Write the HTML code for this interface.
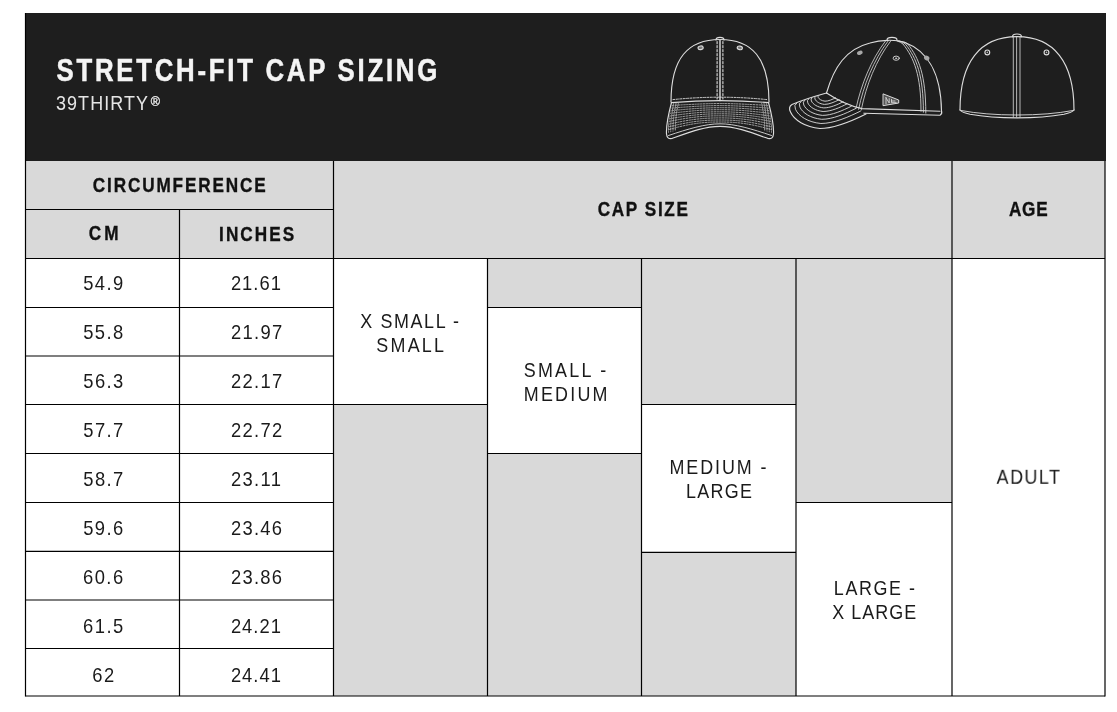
<!DOCTYPE html><html><head><meta charset="utf-8"><title>Stretch-Fit Cap Sizing</title><style>html,body{margin:0;padding:0;background:#fff;}svg{display:block;will-change:transform;}text{font-family:"Liberation Sans",sans-serif;}</style></head><body>
<svg width="1117" height="712" viewBox="0 0 1117 712">
<rect x="25" y="13" width="1081" height="148" fill="#1e1e1e"/>
<rect x="25.5" y="161" width="1079.5" height="97.5" fill="#d9d9d9"/>
<rect x="333.5" y="404.5" width="154.0" height="291.5" fill="#d9d9d9"/>
<rect x="487.5" y="258.5" width="154.0" height="49.0" fill="#d9d9d9"/>
<rect x="487.5" y="453.5" width="154.0" height="242.5" fill="#d9d9d9"/>
<rect x="641.5" y="258.5" width="154.5" height="146.0" fill="#d9d9d9"/>
<rect x="641.5" y="552.4" width="154.5" height="143.60000000000002" fill="#d9d9d9"/>
<rect x="796.0" y="258.5" width="156.0" height="244.0" fill="#d9d9d9"/>
<line x1="25.5" y1="13" x2="25.5" y2="696.6" stroke="#000" stroke-width="1.2"/>
<line x1="1105.0" y1="161" x2="1105.0" y2="696.6" stroke="#000" stroke-width="1.2"/>
<line x1="25.5" y1="696.0" x2="1105.0" y2="696.0" stroke="#000" stroke-width="1.2"/>
<line x1="25.5" y1="209.5" x2="333.5" y2="209.5" stroke="#000" stroke-width="1.2"/>
<line x1="25.5" y1="258.5" x2="1105.0" y2="258.5" stroke="#000" stroke-width="1.2"/>
<line x1="179.5" y1="209.5" x2="179.5" y2="696.0" stroke="#000" stroke-width="1.2"/>
<line x1="333.5" y1="161" x2="333.5" y2="696.0" stroke="#000" stroke-width="1.2"/>
<line x1="952.0" y1="161" x2="952.0" y2="696.0" stroke="#000" stroke-width="1.2"/>
<line x1="487.5" y1="258.5" x2="487.5" y2="696.0" stroke="#000" stroke-width="1.2"/>
<line x1="641.5" y1="258.5" x2="641.5" y2="696.0" stroke="#000" stroke-width="1.2"/>
<line x1="796.0" y1="258.5" x2="796.0" y2="696.0" stroke="#000" stroke-width="1.2"/>
<line x1="25.5" y1="307.5" x2="333.5" y2="307.5" stroke="#000" stroke-width="1.2"/>
<line x1="25.5" y1="356.0" x2="333.5" y2="356.0" stroke="#000" stroke-width="1.2"/>
<line x1="25.5" y1="404.5" x2="333.5" y2="404.5" stroke="#000" stroke-width="1.2"/>
<line x1="25.5" y1="453.5" x2="333.5" y2="453.5" stroke="#000" stroke-width="1.2"/>
<line x1="25.5" y1="502.5" x2="333.5" y2="502.5" stroke="#000" stroke-width="1.2"/>
<line x1="25.5" y1="551.3" x2="333.5" y2="551.3" stroke="#000" stroke-width="1.2"/>
<line x1="25.5" y1="600.0" x2="333.5" y2="600.0" stroke="#000" stroke-width="1.2"/>
<line x1="25.5" y1="648.5" x2="333.5" y2="648.5" stroke="#000" stroke-width="1.2"/>
<line x1="333.5" y1="404.5" x2="487.5" y2="404.5" stroke="#000" stroke-width="1.2"/>
<line x1="487.5" y1="307.5" x2="641.5" y2="307.5" stroke="#000" stroke-width="1.2"/>
<line x1="487.5" y1="453.5" x2="641.5" y2="453.5" stroke="#000" stroke-width="1.2"/>
<line x1="641.5" y1="404.5" x2="796.0" y2="404.5" stroke="#000" stroke-width="1.2"/>
<line x1="641.5" y1="552.4" x2="796.0" y2="552.4" stroke="#000" stroke-width="1.2"/>
<line x1="796.0" y1="502.5" x2="952.0" y2="502.5" stroke="#000" stroke-width="1.2"/>
<text id="t_title" transform="translate(246.86,81) scale(0.84,1)" font-size="30.7" font-weight="bold" fill="#f4f4f4" stroke="#f4f4f4" stroke-width="0.5" text-anchor="middle" textLength="453.24" lengthAdjust="spacing">STRETCH-FIT CAP SIZING</text>
<text id="t_sub" transform="translate(102.01,110) scale(0.92,1)" font-size="19.5" font-weight="normal" fill="#e6e6e6" text-anchor="middle" textLength="100.16" lengthAdjust="spacing">39THIRTY</text>
<text id="t_reg" transform="translate(155.40,105.6) scale(1.0,1)" font-size="12.5" font-weight="normal" fill="#e6e6e6" stroke="#e6e6e6" stroke-width="0.35" text-anchor="middle">®</text>
<text id="t_CIRC" transform="translate(179.25,192) scale(0.88,1)" font-size="19.5" font-weight="bold" fill="#111" stroke="#111" stroke-width="0.35" text-anchor="middle" textLength="196.47" lengthAdjust="spacing">CIRCUMFERENCE</text>
<text id="t_CM" transform="translate(103.57,240.3) scale(0.88,1)" font-size="19.5" font-weight="bold" fill="#111" stroke="#111" stroke-width="0.35" text-anchor="middle" textLength="33.94" lengthAdjust="spacing">CM</text>
<text id="t_INCHES" transform="translate(256.59,240.5) scale(0.88,1)" font-size="19.5" font-weight="bold" fill="#111" stroke="#111" stroke-width="0.35" text-anchor="middle" textLength="85.30" lengthAdjust="spacing">INCHES</text>
<text id="t_CAPSIZE" transform="translate(642.76,215.8) scale(0.88,1)" font-size="19.5" font-weight="bold" fill="#111" stroke="#111" stroke-width="0.35" text-anchor="middle" textLength="102.53" lengthAdjust="spacing">CAP SIZE</text>
<text id="t_AGE" transform="translate(1028.31,215.5) scale(0.88,1)" font-size="19.5" font-weight="bold" fill="#111" stroke="#111" stroke-width="0.35" text-anchor="middle" textLength="43.92" lengthAdjust="spacing">AGE</text>
<text id="t_cm0" transform="translate(103.20,290.2) scale(0.92,1)" font-size="20" font-weight="normal" fill="#1a1a1a" text-anchor="middle" textLength="43.40" lengthAdjust="spacing">54.9</text>
<text id="t_in0" transform="translate(255.90,290.2) scale(0.92,1)" font-size="20" font-weight="normal" fill="#1a1a1a" text-anchor="middle" textLength="54.35" lengthAdjust="spacing">21.61</text>
<text id="t_cm1" transform="translate(103.21,339.2) scale(0.92,1)" font-size="20" font-weight="normal" fill="#1a1a1a" text-anchor="middle" textLength="43.42" lengthAdjust="spacing">55.8</text>
<text id="t_in1" transform="translate(256.61,339.2) scale(0.92,1)" font-size="20" font-weight="normal" fill="#1a1a1a" text-anchor="middle" textLength="55.88" lengthAdjust="spacing">21.97</text>
<text id="t_cm2" transform="translate(103.29,388.2) scale(0.92,1)" font-size="20" font-weight="normal" fill="#1a1a1a" text-anchor="middle" textLength="43.59" lengthAdjust="spacing">56.3</text>
<text id="t_in2" transform="translate(256.61,388.2) scale(0.92,1)" font-size="20" font-weight="normal" fill="#1a1a1a" text-anchor="middle" textLength="55.88" lengthAdjust="spacing">22.17</text>
<text id="t_cm3" transform="translate(103.24,437.2) scale(0.92,1)" font-size="20" font-weight="normal" fill="#1a1a1a" text-anchor="middle" textLength="43.48" lengthAdjust="spacing">57.7</text>
<text id="t_in3" transform="translate(256.61,437.2) scale(0.92,1)" font-size="20" font-weight="normal" fill="#1a1a1a" text-anchor="middle" textLength="55.88" lengthAdjust="spacing">22.72</text>
<text id="t_cm4" transform="translate(103.24,486.2) scale(0.92,1)" font-size="20" font-weight="normal" fill="#1a1a1a" text-anchor="middle" textLength="43.48" lengthAdjust="spacing">58.7</text>
<text id="t_in4" transform="translate(255.90,486.2) scale(0.92,1)" font-size="20" font-weight="normal" fill="#1a1a1a" text-anchor="middle" textLength="54.35" lengthAdjust="spacing">23.11</text>
<text id="t_cm5" transform="translate(103.19,535.2) scale(0.92,1)" font-size="20" font-weight="normal" fill="#1a1a1a" text-anchor="middle" textLength="43.36" lengthAdjust="spacing">59.6</text>
<text id="t_in5" transform="translate(256.51,535.2) scale(0.92,1)" font-size="20" font-weight="normal" fill="#1a1a1a" text-anchor="middle" textLength="55.67" lengthAdjust="spacing">23.46</text>
<text id="t_cm6" transform="translate(103.12,584.2) scale(0.92,1)" font-size="20" font-weight="normal" fill="#1a1a1a" text-anchor="middle" textLength="43.51" lengthAdjust="spacing">60.6</text>
<text id="t_in6" transform="translate(256.51,584.2) scale(0.92,1)" font-size="20" font-weight="normal" fill="#1a1a1a" text-anchor="middle" textLength="55.67" lengthAdjust="spacing">23.86</text>
<text id="t_cm7" transform="translate(103.14,633.2) scale(0.92,1)" font-size="20" font-weight="normal" fill="#1a1a1a" text-anchor="middle" textLength="43.56" lengthAdjust="spacing">61.5</text>
<text id="t_in7" transform="translate(255.90,633.2) scale(0.92,1)" font-size="20" font-weight="normal" fill="#1a1a1a" text-anchor="middle" textLength="54.35" lengthAdjust="spacing">24.21</text>
<text id="t_cm8" transform="translate(103.29,682.2) scale(0.92,1)" font-size="20" font-weight="normal" fill="#1a1a1a" text-anchor="middle" textLength="24.05" lengthAdjust="spacing">62</text>
<text id="t_in8" transform="translate(255.90,682.2) scale(0.92,1)" font-size="20" font-weight="normal" fill="#1a1a1a" text-anchor="middle" textLength="54.35" lengthAdjust="spacing">24.41</text>
<text id="t_XSMALL-" transform="translate(409.67,327.7) scale(0.92,1)" font-size="19.5" font-weight="normal" fill="#1a1a1a" text-anchor="middle" textLength="107.41" lengthAdjust="spacing">X SMALL -</text>
<text id="t_SMALL" transform="translate(410.20,351.6) scale(0.92,1)" font-size="19.5" font-weight="normal" fill="#1a1a1a" text-anchor="middle" textLength="73.62" lengthAdjust="spacing">SMALL</text>
<text id="t_SMALL-" transform="translate(564.96,377.1) scale(0.92,1)" font-size="19.5" font-weight="normal" fill="#1a1a1a" text-anchor="middle" textLength="89.65" lengthAdjust="spacing">SMALL -</text>
<text id="t_MEDIUM" transform="translate(565.64,400.7) scale(0.92,1)" font-size="19.5" font-weight="normal" fill="#1a1a1a" text-anchor="middle" textLength="91.08" lengthAdjust="spacing">MEDIUM</text>
<text id="t_MEDIUM-" transform="translate(717.98,473.7) scale(0.92,1)" font-size="19.5" font-weight="normal" fill="#1a1a1a" text-anchor="middle" textLength="105.64" lengthAdjust="spacing">MEDIUM -</text>
<text id="t_LARGE" transform="translate(718.89,498.1) scale(0.92,1)" font-size="19.5" font-weight="normal" fill="#1a1a1a" text-anchor="middle" textLength="71.76" lengthAdjust="spacing">LARGE</text>
<text id="t_LARGE-" transform="translate(874.41,595) scale(0.92,1)" font-size="19.5" font-weight="normal" fill="#1a1a1a" text-anchor="middle" textLength="88.16" lengthAdjust="spacing">LARGE -</text>
<text id="t_XLARGE" transform="translate(874.25,619) scale(0.92,1)" font-size="19.5" font-weight="normal" fill="#1a1a1a" text-anchor="middle" textLength="91.15" lengthAdjust="spacing">X LARGE</text>
<text id="t_ADULT" transform="translate(1028.31,483.8) scale(0.92,1)" font-size="19.5" font-weight="normal" fill="#1a1a1a" text-anchor="middle" textLength="69.04" lengthAdjust="spacing">ADULT</text>
<g fill="none" stroke="#dcdcdc" stroke-width="1.15" stroke-linecap="round" stroke-linejoin="round">
<path d="M716,40 Q716,37.3 720,37.3 Q724,37.3 724,40"/>
<path d="M671,102 C671,58 688,39.5 720,39.5 C752,39.5 769,58 769,102"/>
<path d="M720,40 V100.5" stroke-width="1.7" stroke="#bdbdbd"/>
<path d="M717.1,41.5 V99 M722.9,41.5 V99" stroke-dasharray="2.2 1.8" stroke-width="1.1"/>
<ellipse cx="700.6" cy="47.8" rx="2.6" ry="1.8" fill="#777" transform="rotate(-10 700.6 47.8)"/>
<ellipse cx="739.8" cy="47.9" rx="2.6" ry="1.8" fill="#777" transform="rotate(10 739.8 47.9)"/>
<path d="M673,99.6 Q720,94.8 767,99.6" stroke-dasharray="2 1.4" stroke-width="0.9"/>
<path d="M671.5,102.6 Q720,98.6 768.5,102.6"/>
<path d="M671.5,102.5 C669,112 666,126 666.5,134 Q667,139.5 672,138.5 C690,132 705,126.3 720,126.3 C735,126.3 750,132 768,138.5 Q773,139.5 773.5,134 C774,126 771,112 768.5,102.5"/>
<path d="M668.5,135.5 C688,129 705,123.8 720,123.8 C735,123.8 752,129 771.5,135.5" stroke-width="0.9"/>
<clipPath id="brimclip"><path d="M672.5,103 Q720,99.6 767.5,103 C770,112 772.5,124 772,133 C750,127 735,123 720,123 C705,123 690,127 668,133 C667.5,124 670,112 672.5,103 Z"/></clipPath>
<g clip-path="url(#brimclip)" stroke="#b0b0b0" stroke-width="0.9" stroke-dasharray="1.5 1.3">
<path d="M664,131.0 C690,123.0 705,122.0 720,122.0 C735,122.0 750,123.0 776,131.0"/>
<path d="M664,128.2 C690,121.0 705,120.0 720,120.0 C735,120.0 750,121.0 776,128.2"/>
<path d="M664,125.4 C690,118.9 705,117.9 720,117.9 C735,117.9 750,118.9 776,125.4"/>
<path d="M664,122.6 C690,116.8 705,115.8 720,115.8 C735,115.8 750,116.8 776,122.6"/>
<path d="M664,119.8 C690,114.8 705,113.8 720,113.8 C735,113.8 750,114.8 776,119.8"/>
<path d="M664,117.0 C690,112.8 705,111.8 720,111.8 C735,111.8 750,112.8 776,117.0"/>
<path d="M664,114.2 C690,110.7 705,109.7 720,109.7 C735,109.7 750,110.7 776,114.2"/>
<path d="M664,111.4 C690,108.7 705,107.7 720,107.7 C735,107.7 750,108.7 776,111.4"/>
<path d="M664,108.6 C690,106.6 705,105.6 720,105.6 C735,105.6 750,106.6 776,108.6"/>
<path d="M664,105.8 C690,104.5 705,103.5 720,103.5 C735,103.5 750,104.5 776,105.8"/>
<path d="M671.5,103 C669.5,112 668.0,124 668.5,133"/>
<path d="M768.5,103 C770.5,112 772.0,124 771.5,133"/>
<path d="M673.8,103 C671.8,112 670.3,124 670.8,133"/>
<path d="M766.2,103 C768.2,112 769.7,124 769.2,133"/>
<path d="M676.1,103 C674.1,112 672.6,124 673.1,133"/>
<path d="M763.9,103 C765.9,112 767.4,124 766.9,133"/>
<path d="M678.4,103 C676.4,112 674.9,124 675.4,133"/>
<path d="M761.6,103 C763.6,112 765.1,124 764.6,133"/>
</g>
<path d="M887,40 Q887,37.3 892,37.3 Q897,37.3 897,40"/>
<path d="M826.5,93 C834,67 846,49 870,43 C880,40 895,39 905,42.5 C925,50 941,70 941.5,111"/>
<path d="M826.5,93 Q845,105 862,108.6 L940,111.2"/>
<path d="M864,113.2 L940,115.2 Q942.5,114 941.5,111"/>
<path d="M826.5,93 C812,97 800,101 792,104.5 Q788,107 790.5,112 C794,120 805,127 820,128.5 C835,128.5 852,121 866,114"/>
<path d="M796.8,102.9 Q793.4,105.0 795.5,109.3 C798.5,116.2 808.0,122.2 820.9,123.5 C833.8,123.5 848.4,117.1 860.5,111.1" stroke-width="0.9"/>
<path d="M801.0,101.5 Q798.0,103.4 799.9,107.1 C802.5,113.0 810.6,118.2 821.7,119.3 C832.8,119.3 845.4,113.7 855.7,108.5" stroke-width="0.9"/>
<path d="M804.8,100.2 Q802.2,101.8 803.8,105.0 C806.0,110.0 813.0,114.4 822.4,115.4 C831.9,115.4 842.6,110.6 851.4,106.2" stroke-width="0.9"/>
<path d="M808.6,99.0 Q806.5,100.3 807.8,102.9 C809.6,107.0 815.3,110.7 823.1,111.5 C830.9,111.5 839.8,107.6 847.0,103.9" stroke-width="0.9"/>
<path d="M812.0,97.8 Q810.3,98.9 811.4,101.0 C812.9,104.3 817.5,107.3 823.8,107.9 C830.1,107.9 837.2,104.8 843.1,101.8" stroke-width="0.9"/>
<path d="M815.5,96.7 Q814.2,97.5 815.0,99.1 C816.1,101.6 819.6,103.9 824.4,104.4 C829.2,104.4 834.7,102.0 839.1,99.7" stroke-width="0.9"/>
<path d="M818.6,95.6 Q817.6,96.2 818.2,97.4 C819.0,99.2 821.6,100.8 825.0,101.2 C828.5,101.2 832.4,99.4 835.6,97.8" stroke-width="0.9"/>
<path d="M885.5,41 C871.0,60 861.0,85 856.0,108.5" stroke-width="0.8"/>
<path d="M888.1,41 C873.6,60 863.6,85 858.6,109.3" stroke-width="0.8"/>
<path d="M890.7,41 C876.2,60 866.2,85 861.2,110.1" stroke-width="0.8"/>
<path d="M897.0,41 Q901.0,42 903.0,44 C914.0,58 921.0,75 921.0,111.2" stroke-width="0.85"/>
<path d="M898.2,41 Q903.4,42 905.4,44 C916.4,58 923.4,75 923.4,112.2" stroke-width="0.85"/>
<path d="M899.4,41 Q905.8,42 907.8,44 C918.8,58 925.8,75 925.8,113.1" stroke-width="0.85"/>
<ellipse cx="859.8" cy="52.8" rx="2.9" ry="2" transform="rotate(-20 859.8 52.8)" fill="#a8a8a8" stroke="none"/>
<ellipse cx="896.2" cy="58.2" rx="3.1" ry="2.1" stroke-width="0.9"/>
<ellipse cx="896.2" cy="58.2" rx="1.2" ry="0.7" fill="#cfcfcf" stroke="none"/>
<ellipse cx="926.7" cy="58" rx="2.8" ry="2.3" transform="rotate(30 926.7 58)" fill="#a8a8a8" stroke="none"/>
<path d="M883.4,94 L898.7,100 L898.7,103 L883.4,105.6 Z" fill="#555" stroke="#dcdcdc" stroke-width="1"/>
<path d="M886,97.5 V103.8 M886,97.8 L889.2,103 V98.6 M891.5,99.4 V102.7 H896.2 M891.5,101 H895" stroke="#d0d0d0" stroke-width="0.95" fill="none"/>
<path d="M1012.5,36.7 Q1012.5,34 1017,34 Q1021.5,34 1021.5,36.7"/>
<path d="M960,110 C960,62 980,36.7 1017,36.7 C1054,36.7 1074,62 1074,110"/>
<path d="M960,110 Q962,112.5 970,114.2 Q990,117.8 1017,117.8 Q1044,117.8 1064,114.2 Q1072,112.5 1074,110"/>
<path d="M961,110.5 Q985,115 1017,115 Q1049,115 1073,110.5" stroke-width="0.9"/>
<path d="M1013.3,36.7 V117" stroke-width="0.8"/>
<path d="M1016.6,36.7 V117" stroke-width="0.8"/>
<path d="M1020,36.7 V117" stroke-width="0.8"/>
<circle cx="987.3" cy="52.4" r="2.4"/><circle cx="987.3" cy="52.4" r="0.8" fill="#bbb" stroke="none"/>
<circle cx="1046.5" cy="52.4" r="2.4"/><circle cx="1046.5" cy="52.4" r="0.8" fill="#bbb" stroke="none"/>
</g>
</svg></body></html>
